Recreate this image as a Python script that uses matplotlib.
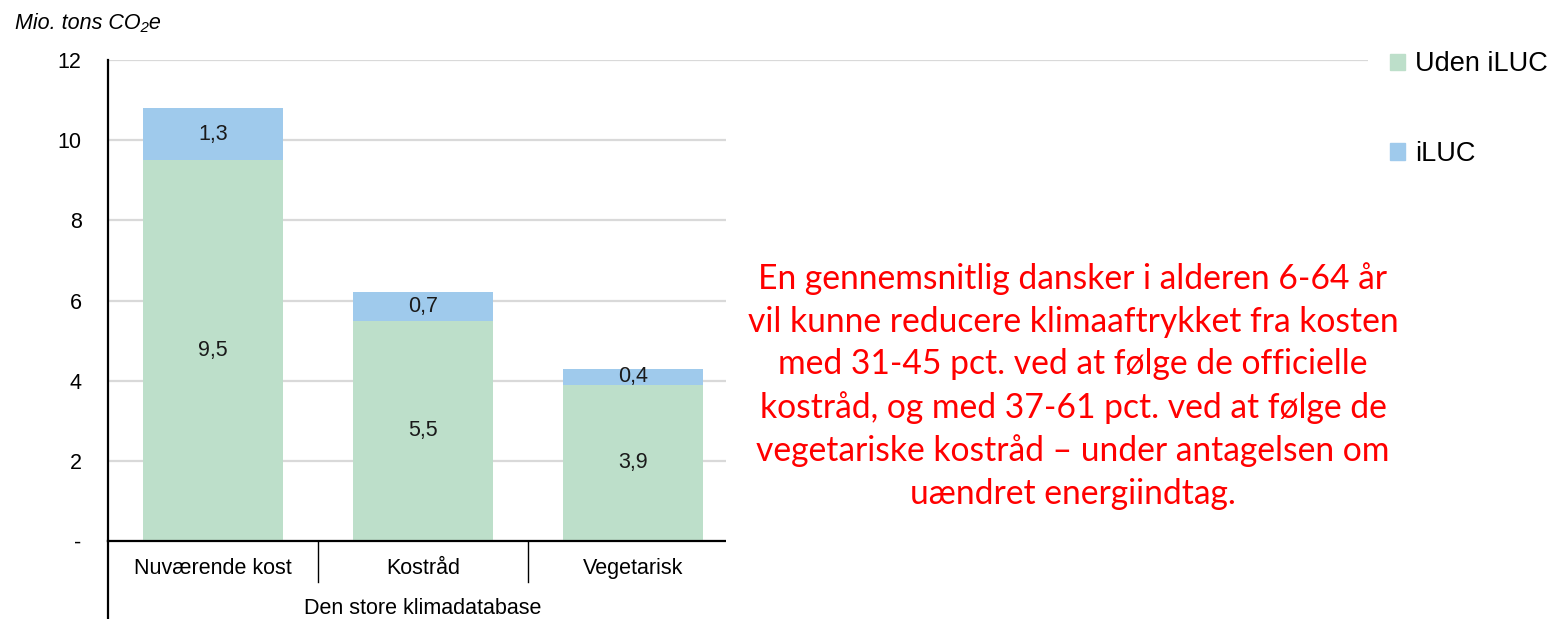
import matplotlib
matplotlib.use("Agg")
import matplotlib.pyplot as plt
from matplotlib.patches import Patch, Rectangle

kategorier = ["Nuværende kost", "Kostråd", "Vegetarisk"]
uden_iluc = [9.5, 5.5, 3.9]
iluc = [1.3, 0.7, 0.4]
gruppe = "Den store klimadatabase"
yticks = [0, 2, 4, 6, 8, 10, 12]
ytick_labels = ["-", "2", "4", "6", "8", "10", "12"]
besked = ("En gennemsnitlig dansker i alderen 6-64 år\n"
          "vil kunne reducere klimaaftrykket fra kosten\n"
          "med 31-45 pct. ved at følge de officielle\n"
          "kostråd, og med 37-61 pct. ved at følge de\n"
          "vegetariske kostråd – under antagelsen om\n"
          "uændret energiindtag.")

GRON = "#bddfca"
BLA = "#9fcaec"
FS = 15.5
plt.rcParams["font.family"] = ["Liberation Sans", "DejaVu Sans"]

W, H = 1564, 619
fig = plt.figure(figsize=(W / 100, H / 100), dpi=100)
ax = fig.add_axes([108 / W, 1 - 541 / H, (1368 - 108) / W, (541 - 60) / H])

x = list(range(len(kategorier)))
ax.bar(x, uden_iluc, width=0.667, color=GRON, zorder=2)
ax.bar(x, iluc, width=0.667, bottom=uden_iluc, color=BLA, zorder=2)

for i in x:
    ax.text(i, uden_iluc[i] / 2, f"{uden_iluc[i]:.1f}".replace(".", ","),
            ha="center", va="center", fontsize=FS, color="#1a1a1a", zorder=3)
    ax.text(i, uden_iluc[i] + iluc[i] / 2, f"{iluc[i]:.1f}".replace(".", ","),
            ha="center", va="center", fontsize=FS, color="#1a1a1a", zorder=3)

ax.set_xlim(-0.5, 5.5)
ax.set_ylim(0, 12)
ax.set_yticks(yticks)
ax.set_yticklabels(ytick_labels, fontsize=FS)
ax.tick_params(axis="y", length=0, pad=19)
ax.tick_params(axis="x", length=0, labelbottom=False)
ax.grid(axis="y", color="#d9d9d9", linewidth=1.6, zorder=0)
ax.set_axisbelow(True)
for s in ["top", "right"]:
    ax.spines[s].set_visible(False)
ax.spines["left"].set_linewidth(1.6)
ax.spines["bottom"].set_linewidth(1.6)

# kategoriakse med skillelinjer
tr = ax.get_xaxis_transform()
ax.plot([-0.5, -0.5], [0, -0.17], transform=tr, color="black", lw=1.6, clip_on=False)
for sx in [0.5, 1.5, 2.5]:
    ax.plot([sx, sx], [0, -0.085], transform=tr, color="black", lw=1.0, clip_on=False)
for i, k in enumerate(kategorier):
    ax.text(i, -0.058, k, transform=tr, ha="center", va="center", fontsize=FS)
ax.text(1, -0.14, gruppe, transform=tr, ha="center", va="center", fontsize=FS)

fig.text(15 / W, 1 - 23 / H, "Mio. tons CO₂e", fontsize=FS, style="italic",
         ha="left", va="center")

# hvid tekstboks dækker højre del af plotområdet
fig.add_artist(Rectangle((726 / W, 0), (1376 - 726) / W, (H - 70) / H,
                         transform=fig.transFigure, facecolor="white",
                         edgecolor="none", zorder=1))
fig.text(1073 / W, 1 - 386 / H, besked, color="#ff0000", fontsize=24.2,
         family=["Lato", "DejaVu Sans"], ha="center", va="center",
         linespacing=1.40, zorder=3)

handles = [Patch(color=GRON), Patch(color=BLA)]
fig.legend(handles, ["Uden iLUC", "iLUC"], loc="upper left",
           bbox_to_anchor=(1366 / W, 1 - 27 / H), frameon=False,
           handlelength=0.55, handleheight=0.55, handletextpad=0.35,
           labelspacing=2.35, fontsize=19.5)

fig.savefig("out.png", dpi=100)
